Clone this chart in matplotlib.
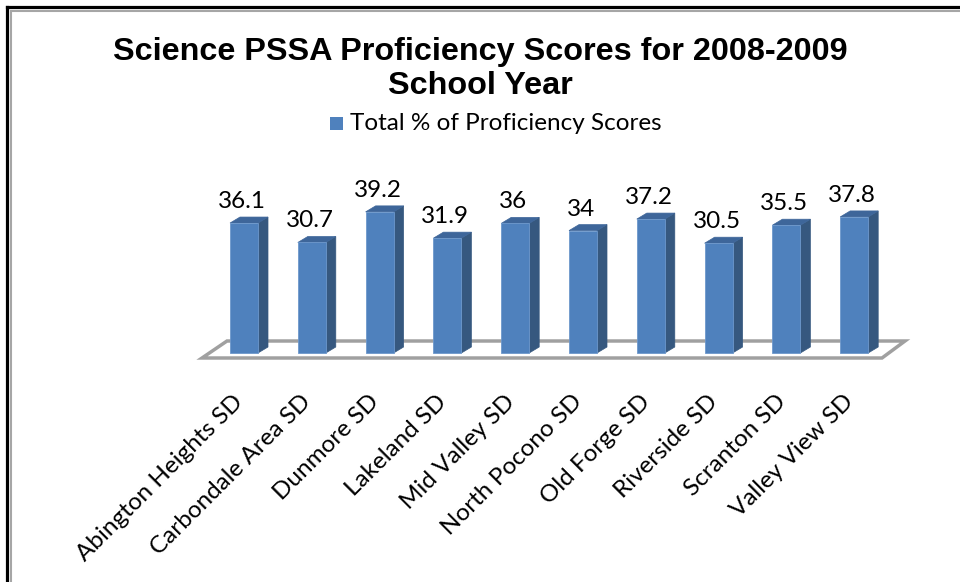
import matplotlib.pyplot as plt
from matplotlib.patches import Polygon
from matplotlib.lines import Line2D

distritos = ["Abington Heights SD", "Carbondale Area SD", "Dunmore SD", "Lakeland SD",
             "Mid Valley SD", "North Pocono SD", "Old Forge SD", "Riverside SD",
             "Scranton SD", "Valley View SD"]
puntajes = [36.1, 30.7, 39.2, 31.9, 36, 34, 37.2, 30.5, 35.5, 37.8]
etiquetas = ["36.1", "30.7", "39.2", "31.9", "36", "34", "37.2", "30.5", "35.5", "37.8"]
serie = "Total % of Proficiency Scores"

W, H = 960, 582
fig = plt.figure(figsize=(W / 100, H / 100), dpi=100)

# marco del grafico (negro + gris interior)
fig.add_artist(Line2D([6.5 / W, 6.5 / W], [0, 1 - 6.5 / H], color="black", lw=2.3))
fig.add_artist(Line2D([6.5 / W, 1], [1 - 6.5 / H, 1 - 6.5 / H], color="black", lw=2.3))
fig.add_artist(Line2D([11 / W, 11 / W], [0, 1 - 11 / H], color="#a6a6a6", lw=1.5))
fig.add_artist(Line2D([11 / W, 1], [1 - 11 / H, 1 - 11 / H], color="#a6a6a6", lw=1.5))

# ejes: 1 categoria = 67.8 px, 1 unidad = 3.6 px
px_x, px_y = 67.8, 3.6
ax_l, ax_r, ax_t, ax_b = 190, 915, 150, 370
ax = fig.add_axes([ax_l / W, 1 - ax_b / H, (ax_r - ax_l) / W, (ax_b - ax_t) / H])
ax.set_xlim((ax_l - 244) / px_x, (ax_r - 244) / px_x)
ax.set_ylim(-(ax_b - 353) / px_y, (353 - ax_t) / px_y)
ax.axis("off")

x = list(range(len(puntajes)))
ancho = 28 / px_x
dx, dy = 10 / px_x, 6 / px_y

# piso 3D
fy0, fy1 = -5 / px_y, 12 / px_y
piso = Polygon([(-42 / px_x, fy0), (638 / px_x, fy0), (661 / px_x, fy1), (-17 / px_x, fy1)],
               closed=True, facecolor="white", edgecolor="#a0a0a0", lw=2.5, zorder=1)
ax.add_patch(piso)

barras = ax.bar(x, puntajes, width=ancho, color="#4f81bd", edgecolor="#6d98cc",
                lw=0.6, zorder=3)
for xi, v in zip(x, puntajes):
    x0, x1 = xi - ancho / 2, xi + ancho / 2
    lado = Polygon([(x1, 0), (x1 + dx, dy), (x1 + dx, v + dy), (x1, v)],
                   closed=True, facecolor="#36587f", edgecolor="#36587f", lw=0.5, zorder=2)
    techo = Polygon([(x0, v), (x1, v), (x1 + dx, v + dy), (x0 + dx, v + dy)],
                    closed=True, facecolor="#3e669a", edgecolor="#3e669a", lw=0.5, zorder=2)
    ax.add_patch(lado)
    ax.add_patch(techo)

for xi, v, t in zip(x, puntajes, etiquetas):
    ax.text(xi - 2 / px_x, v + dy + 5 / px_y, t, ha="center", va="bottom",
            fontsize=17.5, family="Lato", zorder=4)

for xi, nombre in zip(x, distritos):
    ax.text(xi - 0.17, -38 / px_y, nombre, rotation=45, rotation_mode="anchor",
            ha="right", va="top", fontsize=17.5, family="Lato", clip_on=False)

fig.text(0.5, 1 - 52 / H, "Science PSSA Proficiency Scores for 2008-2009",
         ha="center", va="center", fontsize=23.3, fontweight="bold", family="Liberation Sans")
fig.text(0.5, 1 - 86 / H, "School Year",
         ha="center", va="center", fontsize=23.3, fontweight="bold", family="Liberation Sans")

# leyenda
fig.patches.append(plt.Rectangle((330 / W, 1 - 130 / H), 13 / W, 13 / H,
                                 transform=fig.transFigure, facecolor="#4f81bd",
                                 edgecolor="none"))
fig.text(350 / W, 1 - 124 / H, serie, ha="left", va="center", fontsize=17.5, family="Lato")

fig.savefig("out.png", dpi=100)
